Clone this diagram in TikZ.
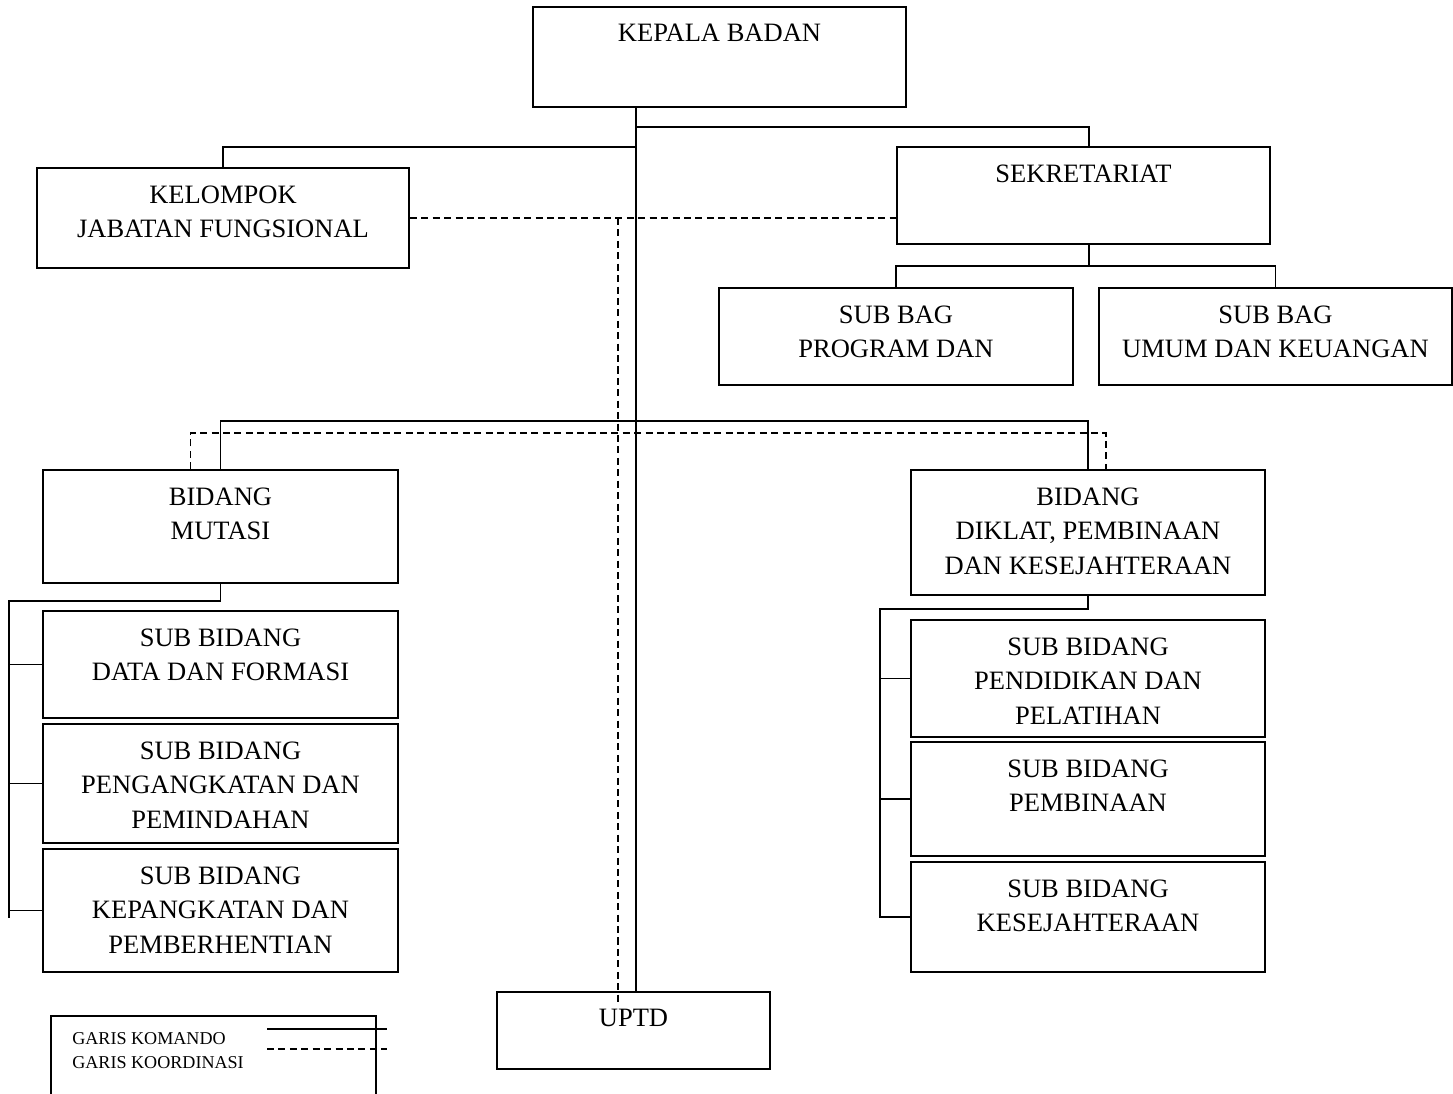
\documentclass[tikz,border=0pt]{standalone}
\usepackage{fontspec}
\setmainfont{Liberation Serif}
\usepackage{tikz}
\usetikzlibrary{positioning, calc}
\tikzset{
  box/.style={rectangle, draw=black, line width=1pt, inner sep=0pt},
  boxsize/.style 2 args={minimum width=#1*0.02cm, minimum height=#2*0.02cm},
  lbl/.style={anchor=north, yshift=-0.36cm, inner sep=0pt, align=center,
    font=\fontsize{15.1}{19.8}\selectfont},
  komando/.style={line width=0.9pt, color=black},
  koordinasi/.style={line width=0.9pt, color=black, dash pattern=on 4pt off 2.5pt},
  legtext/.style={anchor=west, inner sep=0pt, font=\fontsize{10.3}{12}\selectfont}
}
\begin{document}
\begin{tikzpicture}[x=0.02cm, y=-0.02cm]
  \useasboundingbox (0,0) rectangle (1453,1093);
  % Pimpinan dan staf
  \node[box, boxsize={373}{100}, label={[lbl]north:KEPALA BADAN}] (kepala) at (719.5,57) {};
  \node[box, boxsize={372}{100}, label={[lbl]north:{KELOMPOK\\JABATAN FUNGSIONAL}}] (kelompok) at (223,218) {};
  \node[box, boxsize={373}{97}, label={[lbl]north:SEKRETARIAT}] (sekre) at (1083.5,195.5) {};
  \node[box, boxsize={354}{97}, label={[lbl]north:{SUB BAG\\PROGRAM DAN}}] (subprog) at (896,336.5) {};
  \node[box, boxsize={353}{97}, label={[lbl]north:{SUB BAG\\UMUM DAN KEUANGAN}}] (subumum) at (1275.5,336.5) {};
  % Bidang
  \node[box, boxsize={355}{113}, label={[lbl]north:{BIDANG\\MUTASI}}] (mutasi) at (220.5,526.5) {};
  \node[box, boxsize={354}{125}, label={[lbl]north:{BIDANG\\DIKLAT, PEMBINAAN\\DAN KESEJAHTERAAN}}] (diklat) at (1088,532.5) {};
  % Sub bidang mutasi
  \node[box, boxsize={355}{107}, label={[lbl]north:{SUB BIDANG\\DATA DAN FORMASI}}] (data) at (220.5,664.5) {};
  \node[box, boxsize={355}{119}, label={[lbl]north:{SUB BIDANG\\PENGANGKATAN DAN\\PEMINDAHAN}}] (angkat) at (220.5,783.5) {};
  \node[box, boxsize={355}{123}, label={[lbl]north:{SUB BIDANG\\KEPANGKATAN DAN\\PEMBERHENTIAN}}] (pangkat) at (220.5,910.5) {};
  % Sub bidang diklat
  \node[box, boxsize={354}{117}, label={[lbl]north:{SUB BIDANG\\PENDIDIKAN DAN\\PELATIHAN}}] (didik) at (1088,678.5) {};
  \node[box, boxsize={354}{114}, label={[lbl]north:{SUB BIDANG\\PEMBINAAN}}] (bina) at (1088,799) {};
  \node[box, boxsize={354}{110}, label={[lbl]north:{SUB BIDANG\\KESEJAHTERAAN}}] (sejahtera) at (1088,917) {};
  % UPTD
  \node[box, boxsize={273}{77}, label={[lbl]north:UPTD}] (uptd) at (633.5,1030.5) {};
  % Garis komando
  \coordinate (spine) at ([xshift=0.05cm]uptd.north);
  \draw[komando] (spine |- kepala.south) -- (spine);
  \draw[komando] (spine |- 0,127) -| ([xshift=0.11cm]sekre.north);
  \draw[komando] (spine |- 0,147) -| (kelompok.north);
  \draw[komando] ([xshift=0.11cm]sekre.south) -- ++(0,21) -| (subprog.north);
  \draw[komando] ([xshift=0.11cm]sekre.south) -- ++(0,21) -| (subumum.north);
  \draw[komando] (mutasi.north) -- ++(0,-48) -| (diklat.north);
  \draw[komando] (mutasi.south) -- ++(0,17) -| ($(pangkat.west)+(-33,7)$);
  \foreach \n in {data,angkat,pangkat}
    \draw[komando] (\n.west) -- ++(-33,0);
  \draw[komando] (diklat.south) -- ++(0,13) -| ($(sejahtera.west)+(-30,1)$);
  \foreach \n in {didik,bina,sejahtera}
    \draw[komando] (\n.west) -- ++(-30,0);
  % Garis koordinasi
  \coordinate (kx) at (618,218);
  \coordinate (ky) at (618,1005);
  \draw[koordinasi] (kelompok.east) -- (kelompok.east -| sekre.west);
  \draw[koordinasi] (kx) -- (ky);
  \draw[koordinasi] ([xshift=-0.6cm]mutasi.north) -- ++(0,-36) -| ([xshift=0.36cm]diklat.north);
  % Keterangan
  \node[box, boxsize={325}{94}] (legend) at (213.5,1063) {};
  \node[legtext] (lkom) at (72,1039) {GARIS KOMANDO};
  \node[legtext] (lkoor) at (72,1063) {GARIS KOORDINASI};
  \coordinate (la) at (267,1029);
  \coordinate (lb) at (387,1029);
  \coordinate (lc) at (267,1049);
  \coordinate (ld) at (387,1049);
  \draw[komando] (la) -- (lb);
  \draw[koordinasi] (lc) -- (ld);
\end{tikzpicture}
\end{document}
